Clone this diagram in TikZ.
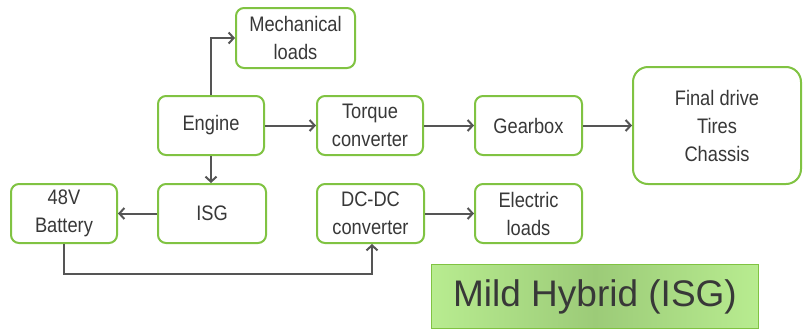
\documentclass[tikz,border=0pt]{standalone}
\usepackage{fontspec}
\setmainfont{Liberation Sans}
\newfontfamily\narrowfont{Liberation Sans}[FakeStretch=0.87]
\usetikzlibrary{arrows.meta,calc}
\definecolor{boxgreen}{HTML}{80C342}
\definecolor{txtgray}{HTML}{383838}
\definecolor{linegray}{HTML}{555555}
\definecolor{lightg}{HTML}{B8EC90}
\definecolor{darkg}{HTML}{9CCB78}
\tikzset{
  blk/.style={draw=boxgreen, line width=2pt, rounded corners=8pt, fill=white,
    text=txtgray, align=center, inner sep=0pt,
    font=\narrowfont\fontsize{21}{28}\selectfont},
  arr/.style={draw=linegray, line width=2pt,
    -{Straight Barb[length=5pt,width=11pt,line width=2pt]}},
}
\begin{document}
\begin{tikzpicture}[x=1pt,y=-1pt]
\useasboundingbox[fill=white] (0,0) rectangle (804,330);
\node[blk, minimum width=119pt, minimum height=60pt] (mech) at (295.5,38) {Mechanical\\loads};
\node[blk, minimum width=106pt, minimum height=59pt] (engine) at (211,125.5) {Engine};
\node[blk, minimum width=106pt, minimum height=59pt] (torque) at (370,125.5) {Torque\\converter};
\node[blk, minimum width=107pt, minimum height=59pt] (gearbox) at (528.5,125.5) {Gearbox};
\node[blk, rounded corners=15pt, minimum width=168pt, minimum height=117pt] (final) at (717,125.5) {Final drive\\Tires\\Chassis};
\node[blk, minimum width=106pt, minimum height=59pt] (battery) at (64,213.5) {48V\\Battery};
\node[blk, minimum width=108pt, minimum height=59pt] (isg) at (212,213.5) {ISG};
\node[blk, minimum width=107pt, minimum height=59pt] (dcdc) at (370.5,213.5) {DC-DC\\converter};
\node[blk, minimum width=107pt, minimum height=59pt] (elec) at (528.5,213.5) {Electric\\loads};
\node[draw=boxgreen, line width=1.5pt, left color=lightg, right color=lightg, middle color=darkg,
  minimum width=327pt, minimum height=64pt, inner sep=0pt, text=txtgray,
  font=\fontsize{37}{40}\selectfont] (mild) at (595,296.5) {Mild Hybrid (ISG)};
\draw[arr] (engine.north) |- (mech.west);
\draw[arr] (engine.south) -- (engine.south |- isg.north);
\draw[arr] (engine.east) -- (torque.west);
\draw[arr] (torque.east) -- (gearbox.west);
\draw[arr] (gearbox.east) -- (final.west |- gearbox.east);
\draw[arr] (isg.west) -- (battery.east);
\draw[arr] (dcdc.east) -- (elec.west);
\draw[arr] (battery.south) -- ++(0,30) -| ([xshift=1.5pt]dcdc.south);
\end{tikzpicture}
\end{document}
